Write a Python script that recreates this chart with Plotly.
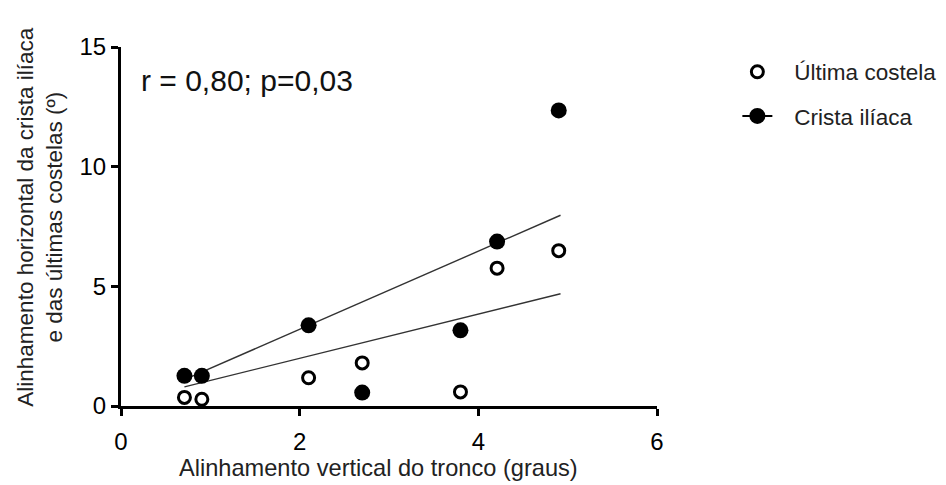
import plotly.graph_objects as go

# Data
trunk_x = [0.71, 0.905, 2.10, 2.70, 3.80, 4.21, 4.90]
ultima_costela = [0.36, 0.28, 1.18, 1.80, 0.59, 5.76, 6.49]
crista_iliaca = [1.26, 1.26, 3.37, 0.56, 3.16, 6.87, 12.35]

# Fitted lines (end points)
fit_x = [0.71, 4.92]
fit_crista = [1.10, 7.97]
fit_costela = [0.80, 4.69]

series_names = ["Última costela", "Crista ilíaca"]
annotation_text = "r = 0,80; p=0,03"
x_title = "Alinhamento vertical do tronco (graus)"
y_title = "Alinhamento horizontal da crista ilíaca<br>e das últimas costelas (º)"
x_ticks = [0, 2, 4, 6]
y_ticks = [0, 5, 10, 15]

FONT = "Liberation Sans, Arial, sans-serif"
PAD = "  \u2009"  # gap between legend symbol and label

# gapped arrays so the filled series shows a line in the legend only
gx, gy = [], []
for xv, yv in zip(trunk_x, crista_iliaca):
    gx += [xv, None]
    gy += [yv, None]

fig = go.Figure()
fig.add_trace(go.Scatter(
    x=fit_x, y=fit_costela, mode="lines",
    line=dict(color="#333333", width=1.4), showlegend=False, hoverinfo="skip"))
fig.add_trace(go.Scatter(
    x=fit_x, y=fit_crista, mode="lines",
    line=dict(color="#333333", width=1.4), showlegend=False, hoverinfo="skip"))
fig.add_trace(go.Scatter(
    x=trunk_x, y=ultima_costela, mode="markers", name=PAD + series_names[0],
    legendgroup="a",
    marker=dict(symbol="circle-open", size=12, color="black", line=dict(width=3, color="black"))))
fig.add_trace(go.Scatter(
    x=gx, y=gy, mode="lines+markers", name=PAD + series_names[1], connectgaps=False,
    legendgroup="b",
    line=dict(color="black", width=2),
    marker=dict(symbol="circle", size=16, color="black")))

fig.add_annotation(
    x=0.2, y=13.6, xref="x", yref="y", text=annotation_text, showarrow=False,
    xanchor="left", yanchor="middle", font=dict(family=FONT, size=30, color="#111111"))

# axis titles as text annotations, placed as in the reference
fig.add_annotation(
    x=-0.1527, y=0.525, xref="paper", yref="paper", text=y_title, showarrow=False,
    textangle=-90, xanchor="center", yanchor="middle",
    font=dict(family=FONT, size=22.5, color="#222222"))
fig.add_annotation(
    x=0.4795, y=-0.1727, xref="paper", yref="paper", text=x_title, showarrow=False,
    xanchor="center", yanchor="middle",
    font=dict(family=FONT, size=23.6, color="#222222"))

fig.update_layout(
    width=946, height=485,
    margin=dict(l=113, r=297, t=39, b=87),
    paper_bgcolor="white", plot_bgcolor="white",
    font=dict(family=FONT, color="black"),
    showlegend=True,
    legend=dict(x=0.771, xref="container", y=0.99, yref="paper",
                xanchor="left", yanchor="top",
                font=dict(family=FONT, size=22.5, color="#222222"),
                tracegroupgap=12, bgcolor="rgba(0,0,0,0)"),
    xaxis=dict(range=[0, 6], tickvals=x_ticks, showgrid=False, zeroline=False,
               automargin=False,
               showline=True, linecolor="black", linewidth=3,
               ticks="outside", ticklen=7, tickwidth=3, tickcolor="black",
               ticklabelstandoff=5,
               tickfont=dict(family=FONT, size=24, color="black")),
    yaxis=dict(range=[0, 15], tickvals=y_ticks, showgrid=False, zeroline=False,
               automargin=False,
               showline=True, linecolor="black", linewidth=3,
               ticks="outside", ticklen=7, tickwidth=3, tickcolor="black",
               tickfont=dict(family=FONT, size=24, color="black")),
)

fig.write_html("out.html")
